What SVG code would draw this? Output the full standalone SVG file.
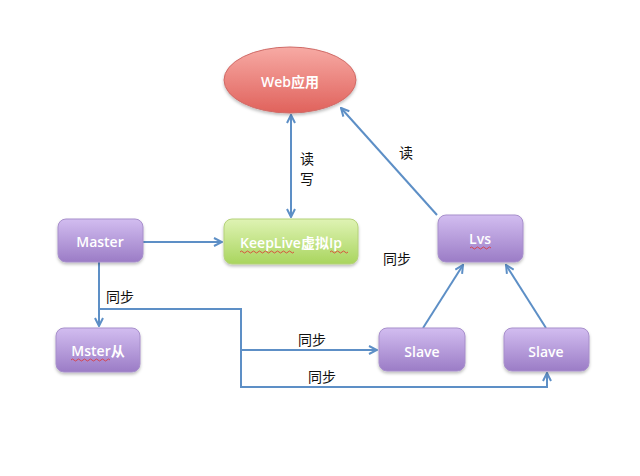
<svg xmlns="http://www.w3.org/2000/svg" width="640" height="476" viewBox="0 0 640 476">
<defs>
<linearGradient id="gp" x1="0" y1="0" x2="0" y2="1"><stop offset="0" stop-color="#d2bdf0"/><stop offset="1" stop-color="#9b7cc6"/></linearGradient>
<linearGradient id="gg" x1="0" y1="0" x2="0" y2="1"><stop offset="0" stop-color="#dff3b4"/><stop offset="1" stop-color="#a9d55e"/></linearGradient>
<linearGradient id="gr" x1="0" y1="0" x2="0" y2="1"><stop offset="0" stop-color="#f7aaa4"/><stop offset="1" stop-color="#e0625c"/></linearGradient>
<marker id="ah" viewBox="0 0 10 10" refX="9" refY="5" markerWidth="5" markerHeight="5" orient="auto-start-reverse"><path d="M1,1 L9,5 L1,9" fill="none" stroke="#5d8fc6" stroke-width="2"/></marker>
<filter id="sh" x="-10%" y="-10%" width="130%" height="140%"><feDropShadow dx="0" dy="2" stdDeviation="1.5" flood-color="#000" flood-opacity="0.25"/></filter>
</defs>
<style>
.p{fill:url(#gp);stroke:#a78fcb;stroke-width:1;filter:url(#sh)}
.g{fill:url(#gg);stroke:#b5d27a;stroke-width:1;filter:url(#sh)}
.e{fill:url(#gr);stroke:#d06a66;stroke-width:1;filter:url(#sh)}
.t{fill:#fff;font-family:"Open Sans","Noto Sans","Noto Sans CJK SC",sans-serif;font-size:14px;font-weight:600;text-anchor:middle;dominant-baseline:central}
.l{fill:#111;font-family:"Noto Sans CJK SC",sans-serif;font-size:14px;dominant-baseline:central}
.c{fill:none;stroke:#5d8fc6;stroke-width:2}
.sq{fill:none;stroke:#e03030;stroke-width:0.8}
</style>
<rect width="640" height="476" fill="#fff"/>
<g id="connectors">
<path class="c" d="M291,115 L291,217" marker-start="url(#ah)" marker-end="url(#ah)"/>
<path class="c" d="M143,242 L222,242" marker-end="url(#ah)"/>
<path class="c" d="M437,215 L341,108" marker-end="url(#ah)"/>
<path class="c" d="M423,328 L463,265" marker-end="url(#ah)"/>
<path class="c" d="M546,328 L506,265" marker-end="url(#ah)"/>
<path class="c" d="M99,262 L99,326" marker-end="url(#ah)"/>
<path class="c" d="M99,309 L241,309 L241,387 L547,387 L547,373" marker-end="url(#ah)"/>
<path class="c" d="M241,350 L377,350" marker-end="url(#ah)"/>
</g>
<g id="labels">
<text class="l" x="300" y="158">读</text>
<text class="l" x="300" y="178">写</text>
<text class="l" x="399" y="152">读</text>
<text class="l" x="383" y="258">同步</text>
<text class="l" x="106" y="296">同步</text>
<text class="l" x="298" y="339">同步</text>
<text class="l" x="308" y="376">同步</text>
</g>
<g id="web"><ellipse class="e" cx="290" cy="80" rx="66" ry="33"/><text class="t" x="290" y="81">Web应用</text></g>
<g id="master"><rect class="p" x="58" y="219" width="85" height="43" rx="8"/><text class="t" x="100" y="241">Master</text></g>
<g id="keeplive"><rect class="g" x="224" y="219" width="134" height="45" rx="8"/><text class="t" x="291" y="242">KeepLive虚拟Ip</text>
<path class="sq" d="M240,252 q1.5,-2 3,0 t3,0 t3,0 t3,0 t3,0 t3,0 t3,0 t3,0 t3,0 t3,0 t3,0 t3,0 t3,0 t3,0 t3,0 t3,0 t3,0 t3,0"/>
<path class="sq" d="M330,252 q1.5,-2 3,0 t3,0 t3,0 t3,0 t3,0 t3,0"/></g>
<g id="lvs"><rect class="p" x="438" y="215" width="85" height="47" rx="8"/><text class="t" x="480" y="238">Lvs</text>
<path class="sq" d="M470,248 q1.5,-2 3,0 t3,0 t3,0 t3,0 t3,0 t3,0 t3,0"/></g>
<g id="mster"><rect class="p" x="56" y="328" width="84" height="44" rx="8"/><text class="t" x="98" y="350">Mster从</text>
<path class="sq" d="M71,360 q1.5,-2 3,0 t3,0 t3,0 t3,0 t3,0 t3,0 t3,0 t3,0 t3,0 t3,0 t3,0 t3,0 t3,0"/></g>
<g id="slave1"><rect class="p" x="379" y="328" width="86" height="43" rx="8"/><text class="t" x="422" y="351">Slave</text></g>
<g id="slave2"><rect class="p" x="504" y="328" width="85" height="43" rx="8"/><text class="t" x="546" y="351">Slave</text></g>
</svg>
